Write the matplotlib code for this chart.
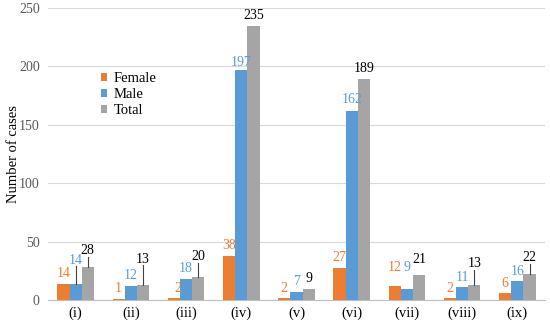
import numpy as np
import matplotlib.pyplot as plt

categories = ["(i)", "(ii)", "(iii)", "(iv)", "(v)", "(vi)", "(vii)", "(viii)", "(ix)"]
female = [14, 1, 2, 38, 2, 27, 12, 2, 6]
male = [14, 12, 18, 197, 7, 162, 9, 11, 16]
total = [28, 13, 20, 235, 9, 189, 21, 13, 22]

# label placement: (x shift in bar widths, label baseline y, leader line?)
female_lab = [(0, 20, 0), (0, 7, 0), (0.3, 7, 0), (0, 44, 0), (0, 7, 0), (0, 33, 0), (0, 25, 0), (0, 7, 0), (0, 11, 0)]
male_lab = [(0, 31, 1), (0, 18, 0), (0, 24, 0), (0, 200, 0), (0, 13, 0), (0, 169, 0), (0, 25, 0), (0, 16, 0), (0, 21, 0)]
total_lab = [(0, 39, 1), (0, 32, 1), (0, 34, 1), (0, 241, 0), (0, 15, 0), (0, 195, 0), (0, 32, 0), (0, 28, 1), (0, 33, 1)]

plt.rcParams['font.family'] = ['Liberation Serif', 'DejaVu Serif']

c_f, c_m, c_t = "#ED7D31", "#5B9BD5", "#A5A5A5"
fig = plt.figure(figsize=(5.5, 3.24), dpi=100)
ax = fig.add_axes([48 / 550, 24 / 324, 497 / 550, 292 / 324])

x = np.arange(len(categories))
w = 0.22
ax.bar(x - w, female, w, color=c_f, label="Female", zorder=3)
ax.bar(x, male, w, color=c_m, label="Male", zorder=3)
ax.bar(x + w, total, w, color=c_t, label="Total", zorder=3)

fs = 10
for i in range(len(categories)):
    for off, vals, labs, col in [(-w, female, female_lab, c_f), (0, male, male_lab, c_m),
                                 (w, total, total_lab, "black")]:
        dx, ly, lead = labs[i]
        xx = x[i] + off + dx * w
        ax.text(xx, ly, str(vals[i]), color=col, ha="center", va="baseline", fontsize=fs, zorder=4)
        if lead:
            ax.plot([xx, xx], [vals[i], ly - 2], color="#404040", lw=0.8, zorder=4)

ax.set_xlim(-0.5, len(categories) - 0.5)
ax.set_ylim(0, 250)
ax.set_yticks(range(0, 251, 50))
ax.set_xticks(x)
ax.set_xticklabels(categories, fontsize=10.5)
ax.tick_params(axis="y", labelsize=10, length=0, colors="#595959", pad=6)
ax.tick_params(axis="x", length=0, colors="black", pad=5)
for lab in ax.get_yticklabels():
    lab.set_color("#595959")
ax.grid(axis="y", color="#D9D9D9", lw=0.8, zorder=0)
for s in ["top", "right", "left"]:
    ax.spines[s].set_visible(False)
ax.spines["bottom"].set_color("#BFBFBF")
ax.set_ylabel("Number of cases", fontsize=10.5, labelpad=-1)

ax.legend(loc="upper left", bbox_to_anchor=(0.08, 0.825), frameon=False, fontsize=10.5,
          handlelength=0.4, handleheight=0.4, handletextpad=0.5, labelspacing=0.2)

fig.savefig("out.png", dpi=100)
